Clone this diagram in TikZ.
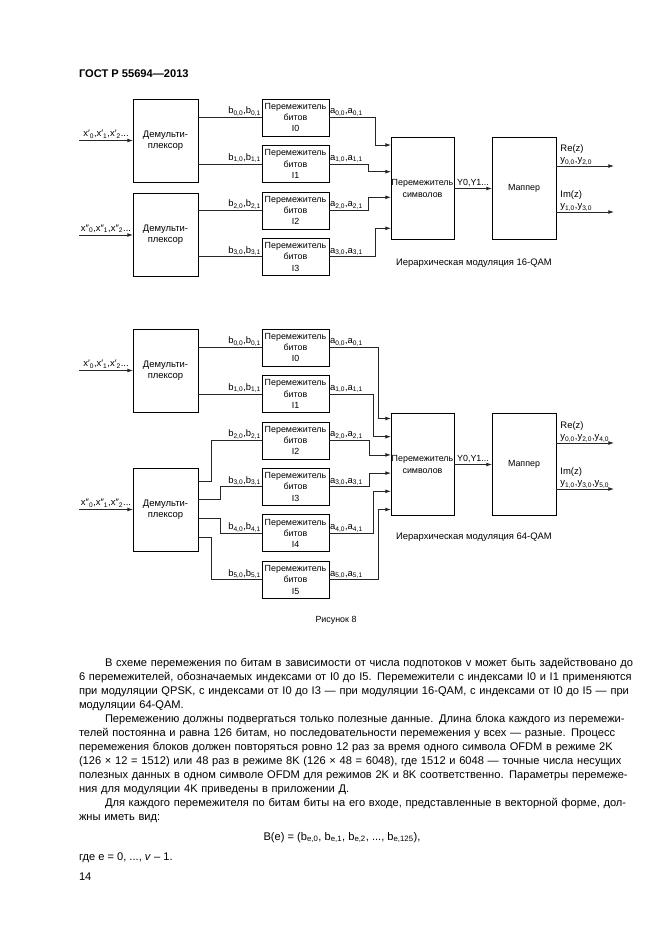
\documentclass[tikz,border=0pt]{standalone}
\usepackage{fontspec}
\setmainfont{Liberation Sans}
\usetikzlibrary{positioning,arrows.meta}
\newcommand{\sbs}[1]{\textsubscript{#1}}

\begin{document}
\begin{tikzpicture}
[x=0.9pt,y=-0.9pt,
 every node/.style={inner sep=0pt,outer sep=0pt,font=\fontsize{8.5}{10.2}\selectfont},
 demux/.style={draw,line width=0.6pt,minimum width=58.5pt,minimum height=74.7pt,align=center},
 bitbox/.style={draw,line width=0.6pt,minimum width=60.3pt,minimum height=33.3pt,align=center,font=\fontsize{8}{10.2}\selectfont},
 bigbox/.style={draw,line width=0.6pt,minimum width=56.7pt,minimum height=91.8pt,align=center,font=\fontsize{8}{10}\selectfont},
 wire/.style={draw=black!85,line width=0.7pt},
 arr/.style={wire,-{Latex[length=5pt,width=3.4pt]}},
 lbl/.style={inner sep=1pt},
 body/.style={text width=484pt,align=left,font=\fontsize{10}{12.6}\selectfont}]
\fill[white] (0,0) rectangle (661,936);
\useasboundingbox (0,0) rectangle (661,936);

\node[anchor=base west,font=\bfseries\fontsize{10}{12}\selectfont] (head) at (79,77) {ГОСТ Р 55694—2013};

% 16-QAM
\node[demux]  (tDa) at (165.5,140.5) {Демульти-\\плексор};
\node[demux]  (tDb) at (165.5,235)   {Демульти-\\плексор};
\node[bitbox] (tI0) at (295.5,117.5)                {Перемежитель\\битов\\I0};
\node[bitbox] (tI1) [on grid,below=41.8pt of tI0] {Перемежитель\\битов\\I1};
\node[bitbox] (tI2) [on grid,below=41.8pt of tI1] {Перемежитель\\битов\\I2};
\node[bitbox] (tI3) [on grid,below=41.8pt of tI2] {Перемежитель\\битов\\I3};
\node[bigbox] (tS)  at (422.5,188.5) {Перемежитель\\символов};
\node[bigbox,minimum width=57.6pt] (tM) at (524,188.5) {Маппер};
\coordinate (tXa) at (79,140.5);
\coordinate (tXb) at (79,235);
\coordinate (tRe) at (614,166);
\coordinate (tIm) at (614,212);
\draw[arr] (tXa) -- (tDa) node[midway,above=2pt] {x′\sbs{0},x′\sbs{1},x′\sbs{2}...};
\draw[arr] (tXb) -- (tDb) node[midway,above=2pt] {x″\sbs{0},x″\sbs{1},x″\sbs{2}...};
\foreach \i/\d in {0/tDa,1/tDa,2/tDb,3/tDb}
  \draw[wire] (\d.east |- tI\i.west) -- (tI\i.west) node[lbl,anchor=south east] {b\sbs{\i,0},b\sbs{\i,1}};
\foreach \i/\xv/\yv in {0/375/145,1/368.5/171.7,2/368.5/197.3,3/375/228.3}
  \draw[arr] (tI\i.east) node[lbl,anchor=south west] {a\sbs{\i,0},a\sbs{\i,1}} -| (\xv,\yv) -- (tS.west |- 0,\yv);
\draw[arr] (tS) -- (tM) node[midway,above=2pt,font=\fontsize{8}{10}\selectfont] {Y0,Y1...};
\draw[arr] (tM.east |- tRe) node[lbl,anchor=south west,align=left,xshift=3pt] {Re(z)\\y\sbs{0,0},y\sbs{2,0}} -- (tRe);
\draw[arr] (tM.east |- tIm) node[lbl,anchor=south west,align=left,xshift=3pt] {Im(z)\\y\sbs{1,0},y\sbs{3,0}} -- (tIm);
\node (tCap) at (474,263) {Иерархическая модуляция 16-QAM};

% 64-QAM
\node[demux]  (bDa) at (165.5,370.5) {Демульти-\\плексор};
\node[demux]  (bDb) at (165.5,509.5) {Демульти-\\плексор};
\node[bitbox] (bI0) at (295.5,347.5)                {Перемежитель\\битов\\I0};
\node[bitbox] (bI1) [on grid,below=41.8pt of bI0] {Перемежитель\\битов\\I1};
\node[bitbox] (bI2) [on grid,below=41.8pt of bI1] {Перемежитель\\битов\\I2};
\node[bitbox] (bI3) [on grid,below=41.8pt of bI2] {Перемежитель\\битов\\I3};
\node[bitbox] (bI4) [on grid,below=41.8pt of bI3] {Перемежитель\\битов\\I4};
\node[bitbox] (bI5) [on grid,below=41.8pt of bI4] {Перемежитель\\битов\\I5};
\node[bigbox] (bS)  at (422.5,464.5) {Перемежитель\\символов};
\node[bigbox,minimum width=57.6pt] (bM) at (524,464.5) {Маппер};
\coordinate (bXa) at (79,370.5);
\coordinate (bXb) at (79,509.5);
\coordinate (bRe) at (614,443);
\coordinate (bIm) at (614,489);
\draw[arr] (bXa) -- (bDa) node[midway,above=2pt] {x′\sbs{0},x′\sbs{1},x′\sbs{2}...};
\draw[arr] (bXb) -- (bDb) node[midway,above=2pt] {x″\sbs{0},x″\sbs{1},x″\sbs{2}...};
\foreach \i in {0,1}
  \draw[wire] (bDa.east |- bI\i.west) -- (bI\i.west) node[lbl,anchor=south east] {b\sbs{\i,0},b\sbs{\i,1}};
\foreach \i/\dy/\dx in {2/25.65pt/13,3/9.45pt/22,4/-7.65pt/22,5/-24.75pt/13}
  \draw[wire] ([yshift=\dy]bDb.east) -- ++(\dx,0) |- (bI\i.west) node[lbl,anchor=south east] {b\sbs{\i,0},b\sbs{\i,1}};
\foreach \i/\xv/\yv in {0/378/418.5,1/373.5/436.7,2/369/454.9,3/369/473.1,4/373.5/491.3,5/378/509.5}
  \draw[arr] (bI\i.east) node[lbl,anchor=south west] {a\sbs{\i,0},a\sbs{\i,1}} -| (\xv,\yv) -- (bS.west |- 0,\yv);
\draw[arr] (bS) -- (bM) node[midway,above=2pt,font=\fontsize{8}{10}\selectfont] {Y0,Y1...};
\draw[arr] (bM.east |- bRe) node[lbl,anchor=south west,align=left,xshift=3pt] {Re(z)\\y\sbs{0,0},y\sbs{2,0},y\sbs{4,0}} -- (bRe);
\draw[arr] (bM.east |- bIm) node[lbl,anchor=south west,align=left,xshift=3pt] {Im(z)\\y\sbs{1,0},y\sbs{3,0},y\sbs{5,0}} -- (bIm);
\node (bCap) at (474,537) {Иерархическая модуляция 64-QAM};

\node[font=\fontsize{8}{10}\selectfont] (fig) at (336,620) {Рисунок 8};

% text below the figure
\node[body,anchor=base west] (txt) at (79,666.5) {%
\makebox[\linewidth][s]{\hspace*{23.4pt}В схеме перемежения по битам в зависимости от числа подпотоков v может быть задействовано до}\\
\makebox[\linewidth][s]{6 перемежителей, обозначаемых индексами от I0 до I5. Перемежители с индексами I0 и I1 применяются}\\
\makebox[\linewidth][s]{при модуляции QPSK, с индексами от I0 до I3 — при модуляции 16-QAM, с индексами от I0 до I5 — при}\\
модуляции 64-QAM.\\
\makebox[\linewidth][s]{\hspace*{23.4pt}Перемежению должны подвергаться только полезные данные. Длина блока каждого из перемежи-}\\
\makebox[\linewidth][s]{телей постоянна и равна 126 битам, но последовательности перемежения у всех — разные. Процесс}\\
\makebox[\linewidth][s]{перемежения блоков должен повторяться ровно 12 раз за время одного символа OFDM в режиме 2K}\\
\makebox[\linewidth][s]{(126 × 12 = 1512) или 48 раз в режиме 8K (126 × 48 = 6048), где 1512 и 6048 — точные числа несущих}\\
\makebox[\linewidth][s]{полезных данных в одном символе OFDM для режимов 2K и 8K соответственно. Параметры перемеже-}\\
ния для модуляции 4K приведены в приложении Д.\\
\makebox[\linewidth][s]{\hspace*{23.4pt}Для каждого перемежителя по битам биты на его входе, представленные в векторной форме, дол-}\\
жны иметь вид:};
\node[anchor=base,font=\fontsize{10}{12}\selectfont] (frm) at (342,840) {B(e) = (b\sbs{e,0}, b\sbs{e,1}, b\sbs{e,2}, ..., b\sbs{e,125}),};
\node[anchor=base west,font=\fontsize{10}{12}\selectfont] (where) at (79,860) {где e = 0, ..., \textit{v} – 1.};
\node[anchor=base west,font=\fontsize{10}{12}\selectfont] (pg) at (79,880) {14};
\end{tikzpicture}
\end{document}
